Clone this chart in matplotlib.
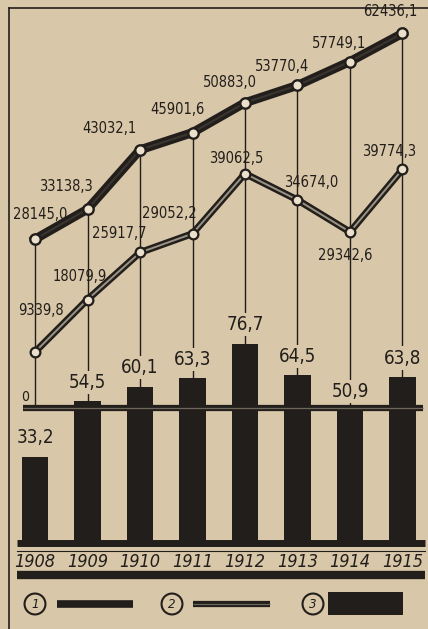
import matplotlib
matplotlib.use('Agg')
import matplotlib.pyplot as plt
from matplotlib.transforms import blended_transform_factory
from matplotlib.patches import Rectangle

# ---------------- data ----------------
years = ['1908', '1909', '1910', '1911', '1912', '1913', '1914', '1915']
series1 = [28145.0, 33138.3, 43032.1, 45901.6, 50883.0, 53770.4, 57749.1, 62436.1]
series2 = [9339.8, 18079.9, 25917.7, 29052.2, 39062.5, 34674.0, 29342.6, 39774.3]
bars = [33.2, 54.5, 60.1, 63.3, 76.7, 64.5, 50.9, 63.8]
legend_labels = ['1', '2', '3']

# label offsets in pixels (dx, dy downwards)
s1_off = [(5, -25), (-22, -23), (-31, -21), (-15, -23), (-15, -20), (-15, -19), (-11, -18), (-12, -22)]
s2_off = [(6, -41), (-8, -23), (-21, -19), (-23, -20), (-9, -15), (14, -17), (-5, 24), (-13, -18)]

PAPER = '#d8c7a8'
INK = '#221e1b'
plt.rcParams['font.family'] = ['DejaVu Sans']
plt.rcParams['font.stretch'] = 'condensed'


def fmt(v):
    return f"{v:.1f}".replace('.', ',')


fig = plt.figure(figsize=(4.28, 6.29), dpi=100, facecolor=PAPER)
ax2 = fig.add_axes([0, 0, 1, 1], zorder=1)   # lines
ax = fig.add_axes([0, 0, 1, 1], zorder=2)    # bars (on top)
ax3 = fig.add_axes([0, 0, 1, 1], zorder=3)   # frame / legend decoration
for a in (ax, ax2):
    a.set_xlim(-0.667, 7.486)
    a.axis('off')
ax.set_ylim(-33.08, 208.85)
ax2.set_ylim(-36833, 68000)
ax3.set_xlim(0, 428)
ax3.set_ylim(629, 0)
ax3.axis('off')

x = list(range(len(years)))

# vertical guide lines from series 1 down to zero
ax2.vlines(x, 0, series1, color=INK, lw=1.0, zorder=1)

# series 1 (thick)
ax2.plot(x, series1, color=INK, lw=6.5, solid_joinstyle='round', zorder=3)
ax2.plot(x, series1, color='#3b352f', lw=1.5, zorder=3.1)
ax2.plot(x, series1, 'o', ms=7.5, mfc='#ebe0cb', mec=INK, mew=1.7, zorder=5)

# series 2 (double line)
ax2.plot(x, series2, color=INK, lw=5, solid_joinstyle='round', zorder=3)
ax2.plot(x, series2, color='#9a9283', lw=1.4, zorder=3.1)
ax2.plot(x, series2, 'o', ms=7, mfc='#ebe0cb', mec=INK, mew=1.6, zorder=5)

for xi, v, (dx, dy) in zip(x, series1, s1_off):
    ax2.annotate(fmt(v), (xi, v), xytext=(dx, -dy), textcoords='offset pixels',
                 ha='center', va='center', fontsize=10.5, color=INK, zorder=6)
for xi, v, (dx, dy) in zip(x, series2, s2_off):
    ax2.annotate(fmt(v), (xi, v), xytext=(dx, -dy), textcoords='offset pixels',
                 ha='center', va='center', fontsize=10.5, color=INK, zorder=6)

# bars
ax.bar(x, bars, width=0.5, color=INK, zorder=2)
for xi, v in zip(x, bars):
    ax.annotate(fmt(v), (xi, v), xytext=(0, 19), textcoords='offset pixels',
                ha='center', va='center', fontsize=13.5, color=INK, zorder=6,
                bbox=dict(boxstyle='square,pad=0.12', fc=PAPER, ec='none'))

# zero line of the line chart (drawn over bars)
trans = blended_transform_factory(ax.transData, ax2.transData)
ax.plot([-0.229, 7.39], [0, 0], transform=trans, color=INK, lw=4.5, zorder=4,
        solid_capstyle='butt')
ax.plot([-0.229, 7.39], [0, 0], transform=trans, color='#6f675c', lw=0.9, zorder=4.1,
        solid_capstyle='butt')
ax.annotate('0', (-0.229, 0), xycoords=trans, xytext=(2, 11),
            textcoords='offset pixels', ha='center', va='center', fontsize=10, color=INK)

# bar baseline
ax.plot([-0.343, 7.43], [0, 0], color=INK, lw=5, zorder=4, solid_capstyle='butt')

# year labels
for xi, yr in zip(x, years):
    ax.annotate(yr, (xi, 0), xytext=(0, -19), textcoords='offset pixels',
                ha='center', va='center', fontsize=13, style='italic', color=INK)

# frame and rules
ax3.plot([9, 9], [8, 629], color=INK, lw=1.2)
ax3.plot([9, 428], [8, 8], color=INK, lw=1.2)
ax3.plot([17, 425], [550.5, 550.5], color=INK, lw=0.8)
ax3.plot([17, 425], [575, 575], color=INK, lw=6, solid_capstyle='butt')

# legend
circ_x = [35, 172, 313]
for cx, lab in zip(circ_x, legend_labels):
    ax3.text(cx, 604, lab, ha='center', va='center', fontsize=9.5, style='italic', color=INK,
             bbox=dict(boxstyle='circle,pad=0.3', fc='none', ec=INK, lw=1.5))
ax3.plot([57, 133], [604, 604], color=INK, lw=5.5, solid_capstyle='butt')
ax3.plot([193, 270], [604, 604], color=INK, lw=4.5, solid_capstyle='butt')
ax3.plot([193, 270], [604, 604], color='#6f675c', lw=0.8, solid_capstyle='butt')
ax3.add_patch(Rectangle((328, 592), 75, 23, fc=INK, ec='none'))

fig.savefig('out.png', dpi=100, facecolor=PAPER)
